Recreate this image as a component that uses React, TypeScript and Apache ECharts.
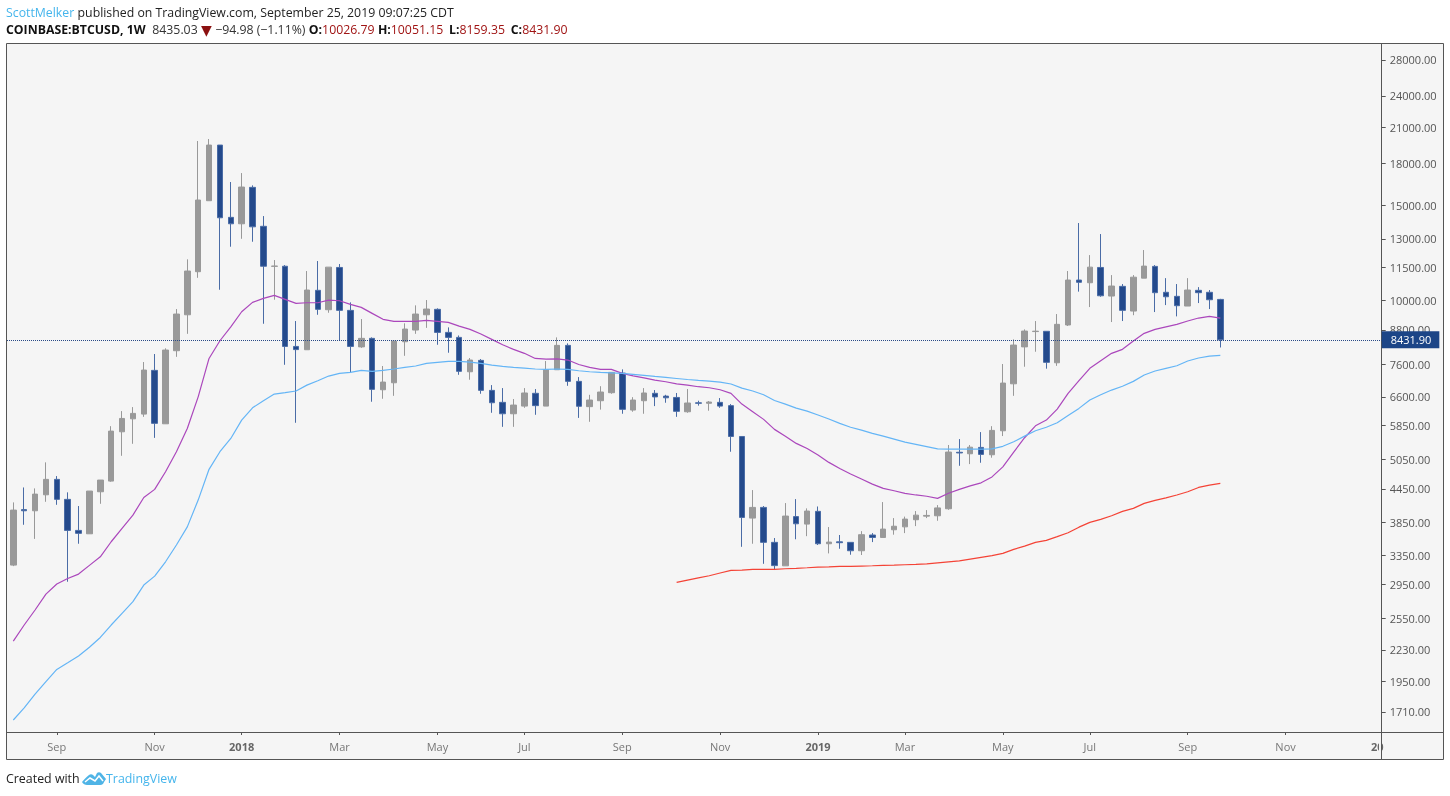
import React, { useEffect, useRef } from "react";
import * as echarts from "echarts";

const FONT = "'Open Sans', sans-serif";
const firstWeek = "2017-08-07";
const WEEK = 7 * 24 * 3600 * 1000;

// open, close, low, high per weekly candle
const ohlc: number[][] = [
  [3208,4062,3194,4198],[4070,4050,3814,4476],[4050,4350,3590,4458],[4337,4634,4209,4985],
  [4634,4253,4155,4700],[4253,3723,2987,4383],[3723,3676,3516,4133],[3669,4407,3669,4407],
  [4394,4620,4173,4620],[4600,5700,4587,5822],[5683,6018,5127,6211],[6008,6150,5398,6318],
  [6131,7406,6059,7665],[7396,5892,5537,7933],[5881,8070,5881,8129],[8046,9417,7838,9621],
  [9388,11325,8651,11908],[11292,15357,11000,19780],[15311,19440,15311,19950],[19440,14233,10452,19440],
  [14257,13869,12570,16590],[13869,16236,13005,17240],[16215,13690,12841,16353],[13720,11560,9033,14336],
  [11555,11570,10013,11872],[11560,8196,7575,11618],[8196,8085,5907,9139],[8080,10439,8080,11325],
  [10426,9609,9388,11821],[9593,11516,9469,11516],[11501,9567,8398,11670],[9567,8196,7333,9901],
  [8180,8485,8145,9217],[8485,6817,6465,8520],[6806,7034,6548,7535],[7013,8387,6631,8387],
  [8362,8830,7873,9049],[8792,9417,8651,9775],[9388,9621,8875,10000],[9609,8705,8254,9650],
  [8705,8520,7977,8893],[8520,7365,7257,8590],[7352,7731,7105,7798],[7720,6788,6690,7764],
  [6788,6437,6166,6943],[6448,6140,5805,6855],[6140,6373,5805,6540],[6345,6712,6299,6855],
  [6703,6358,6113,6826],[6345,7416,6345,7698],[7416,8233,7416,8520],[8233,7055,6922,8304],
  [7055,6340,6032,7186],[6330,6512,5932,6660],[6493,6740,6250,6910],[6720,7333,6690,7333],
  [7311,6257,6140,7428],[6238,6512,6193,6593],[6493,6712,6140,6855],[6703,6600,6345,6797],
  [6623,6575,6437,6660],[6585,6204,6059,6712],[6193,6430,6166,6826],[6435,6422,6358,6493],
  [6422,6456,6220,6484],[6448,6345,6299,6568],[6358,5570,5217,6400],[5570,3936,3470,5570],
  [3925,4109,3516,4426],[4109,3537,3226,4133],[3537,3201,3141,3603],[3198,3959,3198,4186],
  [3950,3830,3584,4258],[3825,4045,3632,4092],[4040,3516,3497,4125],[3516,3541,3373,3777],
  [3545,3532,3441,3650],[3537,3412,3354,3541],[3412,3655,3350,3711],[3650,3612,3541,3680],
  [3612,3744,3612,4204],[3733,3790,3655,3925],[3780,3908,3680,3950],[3897,3975,3792,4045],
  [3958,3970,3925,4062],[3964,4100,3880,4150],[4085,5210,4067,5370],[5205,5190,4912,5508],
  [5172,5320,4948,5370],[5315,5158,4976,5676],[5150,5717,5085,5822],[5708,7004,5580,7600],
  [6982,8244,6631,8448],[8180,8754,7512,8818],[8735,8750,8011,9139],[8745,7655,7450,8745],
  [7641,9010,7540,9417],[8985,10896,8947,11325],[10896,10790,10367,13914],[10770,11516,9704,12127],
  [11501,10185,10142,13272],[10173,10619,9100,11130],[10605,9567,9139,10710],[9539,11030,9370,11130],
  [10985,11567,10985,12392],[11553,10320,9498,11618],[10338,10142,9786,10985],[10160,9760,9323,10710],
  [9746,10439,9746,10985],[10426,10320,9872,10570],[10338,10013,9621,10439],[10026.79,8431.9,8159.35,10051.15],
];

const purpleEma: number[] = [
  2316,2481,2646,2833,2958,3029,3087,3204,3324,3546,3754,3975,4288,4439,4788,5217,
  5764,6602,7784,8398,8915,9510,9901,10073,10202,10030,9860,9885,9885,10000,9970,9816,
  9690,9445,9207,9127,9127,9127,9166,9127,9088,8942,8818,8643,8448,8254,8094,7957,
  7784,7764,7770,7731,7584,7490,7428,7428,7302,7225,7162,7095,7044,6982,6943,6895,
  6865,6806,6701,6400,6193,5994,5742,5578,5407,5290,5143,4984,4855,4741,4640,4541,
  4458,4413,4365,4334,4310,4271,4365,4439,4507,4566,4683,4890,5210,5540,5830,5976,
  6265,6701,7075,7460,7710,7957,8094,8387,8670,8818,8915,9010,9139,9257,9325,9257,
];

const blueEma: number[] = [
  1651,1739,1845,1947,2051,2110,2172,2255,2352,2481,2609,2742,2945,3060,3254,3497,
  3780,4240,4838,5217,5522,5976,6299,6493,6680,6720,6770,6943,7075,7218,7302,7333,
  7396,7365,7396,7440,7490,7535,7621,7655,7688,7688,7665,7621,7566,7524,7490,7470,
  7440,7428,7440,7428,7384,7352,7333,7320,7302,7270,7238,7206,7175,7143,7112,7085,
  7065,7034,6975,6855,6770,6660,6498,6400,6290,6211,6107,6002,5892,5795,5725,5645,
  5578,5508,5438,5385,5332,5280,5275,5275,5275,5275,5280,5340,5445,5578,5708,5795,
  5907,6092,6283,6512,6660,6797,6910,7055,7250,7375,7460,7545,7698,7798,7865,7890,
];

const redEmaStart = 61;
const redEma: number[] = [
  2979,3009,3038,3065,3101,3137,3141,3150,3150,3150,3158,3164,3172,3181,3185,3191,
  3191,3195,3199,3204,3208,3213,3218,3226,3240,3254,3268,3292,3316,3340,3373,3432,
  3480,3537,3567,3625,3685,3775,3854,3903,3964,4040,4092,4180,4235,4280,4334,4394,
  4476,4520,4555,
];

const lastClose = 8431.9;
const yTicks = [28000,24000,21000,18000,15000,13000,11500,10000,8800,7600,6600,5850,5050,4450,3850,3350,2950,2550,2230,1950,1710];
const xTickDates = ["2017-09-04","2017-11-06","2018-01-01","2018-03-05","2018-05-07","2018-07-02","2018-09-03","2018-11-05","2019-01-07","2019-03-04","2019-05-06","2019-07-01","2019-09-02","2019-11-04"];
const xTickLabels = ["Sep","Nov","2018","Mar","May","Jul","Sep","Nov","2019","Mar","May","Jul","Sep","Nov"];

const toWeek = (d: string) =>
  Math.round((new Date(d + "T00:00:00Z").getTime() - new Date(firstWeek + "T00:00:00Z").getTime()) / WEEK);

echarts.graphic.registerShape(
  "tvLogo",
  echarts.graphic.extendPath(
    "M0 11 C2 9 4 6 7 4 C8 3 10 3 11 4 L13 6 L15 2 C16 1 18 1 19 2 L24 8 L22 11 C21 14 19 14 17 14 L5 14 C3 14 1 13 0 11 Z",
    {}
  )
);
echarts.graphic.registerShape(
  "tvLogoMark",
  echarts.graphic.extendPath("M3 11 L8 7 L13 10 L17 5 L21 10", {})
);

export default function App() {
  const ref = useRef<HTMLDivElement>(null);
  useEffect(() => {
    document.body.style.margin = "0";
    const chart = echarts.init(ref.current!, undefined, { renderer: "svg" });
    const xWeeks = xTickDates.map(toWeek);
    const labelByWeek = new Map(xWeeks.map((w, i) => [w, xTickLabels[i]]));
    const frame = "#555555";
    chart.setOption({
      animation: false,
      textStyle: { fontFamily: FONT },
      grid: { left: 7, top: 44, width: 1374.7, height: 688, containLabel: false },
      xAxis: {
        type: "value",
        min: -0.58,
        max: 125.84,
        scale: true,
        splitLine: { show: false },
        axisLine: { show: false, onZero: false },
        axisTick: { show: true, length: 3, lineStyle: { color: frame }, customValues: xWeeks },
        axisLabel: {
          customValues: xWeeks,
          color: "#777777",
          fontFamily: FONT,
          fontSize: 11,
          margin: 9,
          hideOverlap: false,
          formatter: (v: number) => {
            const s = labelByWeek.get(v) ?? "";
            return /^\d/.test(s) ? `{y|${s}}` : s;
          },
          rich: { y: { color: "#666666", fontWeight: "bold", fontFamily: FONT, fontSize: 11 } },
        },
      },
      yAxis: {
        type: "log",
        position: "right",
        min: 1568,
        max: 29989,
        splitLine: { show: false },
        minorTick: { show: false },
        axisLine: { show: false, onZero: false },
        axisTick: { show: true, length: 4, lineStyle: { color: frame }, customValues: yTicks },
        axisLabel: {
          customValues: yTicks,
          color: "#555555",
          fontFamily: FONT,
          fontSize: 11,
          margin: 8,
          formatter: (v: number) => v.toFixed(2),
        },
      },
      series: [
        {
          type: "candlestick",
          name: "BTCUSD",
          barWidth: 6,
          encode: { x: 0, y: [1, 2, 3, 4] },
          data: ohlc.map((r, i) => [i, r[0], r[1], r[2], r[3]]),
          itemStyle: {
            color: "#999999",
            borderColor: "#999999",
            color0: "#244a8c",
            borderColor0: "#4a6ca6",
            borderWidth: 1,
          },
          markLine: {
            silent: true,
            symbol: "none",
            animation: false,
            precision: 2,
            data: [{ yAxis: lastClose }],
            lineStyle: { color: "#2a4a86", width: 1, type: [1, 1] },
            label: {
              show: true,
              position: "end",
              distance: 0,
              formatter: lastClose.toFixed(2),
              color: "#ffffff",
              backgroundColor: "#1c4587",
              fontFamily: FONT,
              fontSize: 11,
              padding: [2, 8, 2, 9],
              lineHeight: 13,
            },
            emphasis: { disabled: true },
          },
        },
        {
          type: "line",
          name: "EMA purple",
          showSymbol: false,
          data: purpleEma.map((v, i) => [i, v]),
          lineStyle: { color: "#ab47bc", width: 1.2 },
          silent: true,
        },
        {
          type: "line",
          name: "EMA blue",
          showSymbol: false,
          data: blueEma.map((v, i) => [i, v]),
          lineStyle: { color: "#64b5f6", width: 1.2 },
          silent: true,
        },
        {
          type: "line",
          name: "EMA red",
          showSymbol: false,
          data: redEma.map((v, i) => [i + redEmaStart, v]),
          lineStyle: { color: "#f44336", width: 1.2 },
          silent: true,
        },
      ],
      graphic: [
        {
          type: "rect",
          z: -10,
          silent: true,
          shape: { x: 6.5, y: 43.5, width: 1437, height: 716 },
          style: { fill: "#f5f5f5", stroke: frame, lineWidth: 1 },
        },
        {
          type: "text",
          z: -8,
          x: 1371,
          y: 746,
          style: { text: "20", fill: "#666666", font: `bold 11px ${FONT}`, verticalAlign: "middle" },
        },
        { type: "rect", z: -7, silent: true, shape: { x: 1379, y: 738, width: 2.5, height: 16 }, style: { fill: "#f5f5f5" } },
        { type: "line", z: -5, silent: true, shape: { x1: 7, y1: 732.5, x2: 1443, y2: 732.5 }, style: { stroke: frame, lineWidth: 1 } },
        { type: "line", z: -5, silent: true, shape: { x1: 1381.5, y1: 44, x2: 1381.5, y2: 759 }, style: { stroke: frame, lineWidth: 1 } },
        {
          type: "text",
          x: 6,
          y: 12,
          style: {
            text: "{a|ScottMelker} {b|published on TradingView.com, September 25, 2019 09:07:25 CDT}",
            verticalAlign: "middle",
            rich: {
              a: { fill: "#45b5ec", font: `12.3px ${FONT}` },
              b: { fill: "#222222", font: `12.3px ${FONT}` },
            },
          },
        },
        {
          type: "text",
          x: 6,
          y: 29.5,
          style: {
            text: "{k|COINBASE:BTCUSD, 1W}  {v|8435.03} {t|▼} {v|−94.98 (−1.11%)} {k|O:}{r|10026.79} {k|H:}{r|10051.15} {g|L:}{r|8159.35} {g|C:}{r|8431.90}",
            verticalAlign: "middle",
            rich: {
              k: { fill: "#111111", font: `bold 12.3px ${FONT}` },
              g: { fill: "#111111", font: `bold 12.3px ${FONT}`, padding: [0, 0, 0, 2.5] },
              v: { fill: "#333333", font: `12.3px ${FONT}` },
              r: { fill: "#a01414", font: `12.3px ${FONT}` },
              t: { fill: "#8b1010", font: `14px 'DejaVu Sans'` },
            },
          },
        },
        {
          type: "text",
          x: 6,
          y: 778,
          style: { text: "Created with", fill: "#222222", font: `12.4px ${FONT}`, verticalAlign: "middle" },
        },
        { type: "tvLogo", x: 82, y: 771, style: { fill: "#4fb4e6" } },
        { type: "tvLogoMark", x: 82, y: 771, style: { fill: "none", stroke: "#ffffff", lineWidth: 1.5 } },
        {
          type: "text",
          x: 106,
          y: 778,
          style: { text: "TradingView", fill: "#45b5ec", font: `12.4px ${FONT}`, verticalAlign: "middle" },
        },
      ],
    });
    return () => chart.dispose();
  }, []);
  return <div ref={ref} style={{ position: "fixed", left: 0, top: 0, width: 1450, height: 796 }} />;
}
